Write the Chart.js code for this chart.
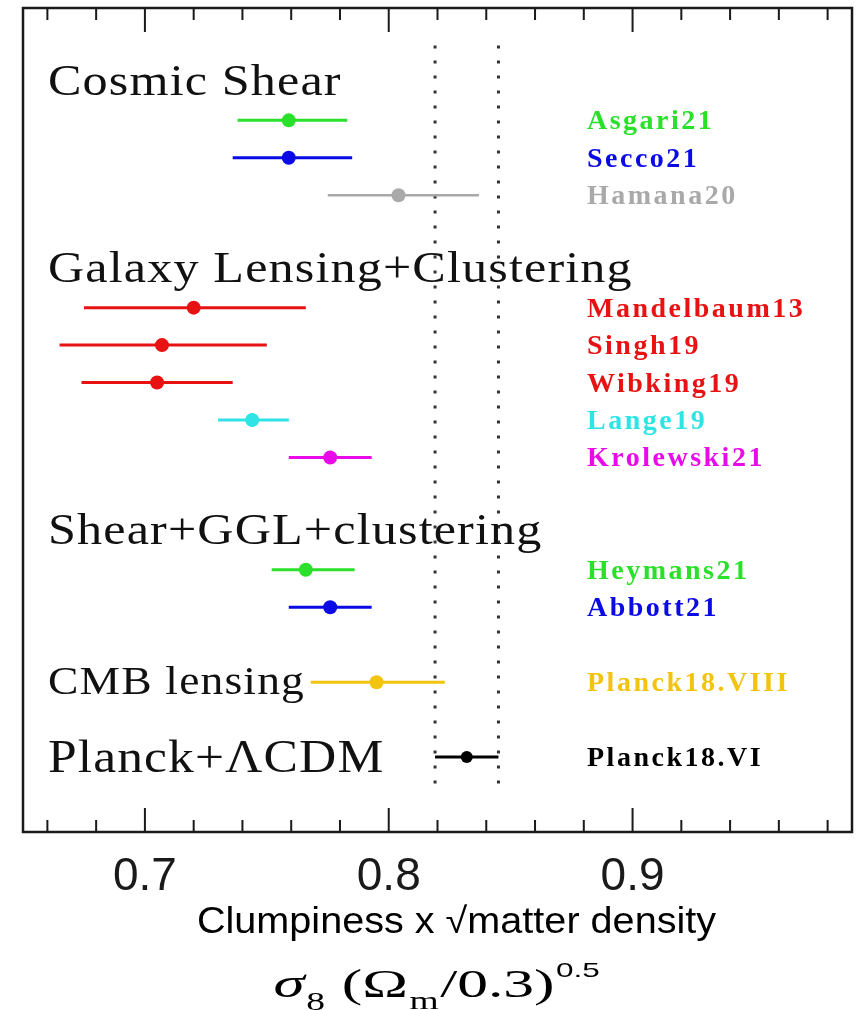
<!DOCTYPE html>
<html>
<head>
<meta charset="utf-8">
<script src="https://cdn.jsdelivr.net/npm/chart.js@4.4.1/dist/chart.umd.min.js"></script>
<style>
  html, body { margin: 0; background: #fff; }
  #wrap { width: 859px; height: 1010px; }
</style>
</head>
<body>
<div id="wrap"><canvas id="s8"></canvas></div>
<script>
// S8 constraints per survey, with 68% bounds
const surveys = ["Asgari21", "Secco21", "Hamana20", "Mandelbaum13", "Singh19", "Wibking19",
  "Lange19", "Krolewski21", "Heymans21", "Abbott21", "Planck18.VIII", "Planck18.VI"]
const rows = [1, 2, 3, 6, 7, 8, 9, 10, 13, 14, 16, 18]
const s8 = [0.759, 0.759, 0.804, 0.720, 0.707, 0.705, 0.744, 0.776, 0.766, 0.776, 0.795, 0.832]
const s8Lo = [0.738, 0.736, 0.775, 0.675, 0.665, 0.674, 0.730, 0.759, 0.752, 0.759, 0.768, 0.819]
const s8Hi = [0.783, 0.785, 0.837, 0.766, 0.750, 0.736, 0.759, 0.793, 0.786, 0.793, 0.823, 0.845]
const colours = ["#2ae02a", "#0a0ae6", "#a9a9a9", "#e81212", "#e81212", "#e81212",
  "#2ee4e4", "#e80ae8", "#2ae02a", "#0a0ae6", "#f2c410", "#000000"]

const groups = ["Cosmic Shear", "Galaxy Lensing+Clustering", "Shear+GGL+clustering", "CMB lensing", "Planck+\u039BCDM"]
const groupRows = [0, 5, 12, 16, 18]
const groupFontSize = [44, 44, 44, 40, 46]

const xLabels = [0.7, 0.8, 0.9]
const minorTicks = [0.66, 0.68, 0.72, 0.74, 0.76, 0.78, 0.82, 0.84, 0.86, 0.88, 0.92, 0.94, 0.96, 0.98]

const planckIdx = surveys.indexOf("Planck18.VI")

const errorBars = surveys.map((name, i) => ({
  data: [{ x: s8Lo[i], y: rows[i] }, { x: s8Hi[i], y: rows[i] }],
  showLine: true,
  borderColor: colours[i],
  borderWidth: i === 2 ? 2.5 : 3,
  pointRadius: 0,
}))

const bandLine = (v) => ({
  data: [{ x: v, y: -1 }, { x: v, y: 19 }],
  showLine: true,
  borderColor: "#333",
  borderWidth: 3,
  borderDash: [3, 12],
  pointRadius: 0,
})

// text squeezed/stretched sideways
function wideText(ctx, text, x, y, sx) {
  ctx.save()
  ctx.translate(x, y)
  ctx.scale(sx, 1)
  ctx.fillText(text, 0, 0)
  ctx.restore()
}

const decorations = {
  id: "decorations",
  afterDraw(chart) {
    const { ctx, chartArea: a, scales: { x, y } } = chart
    ctx.save()

    // box + inward ticks on top and bottom
    ctx.strokeStyle = "#1a1a1a"
    ctx.lineWidth = 2.5
    ctx.strokeRect(a.left, a.top, a.right - a.left, a.bottom - a.top)
    ctx.lineWidth = 2
    const tick = (v, len) => {
      const px = x.getPixelForValue(v)
      ctx.beginPath()
      ctx.moveTo(px, a.bottom)
      ctx.lineTo(px, a.bottom - len)
      ctx.moveTo(px, a.top)
      ctx.lineTo(px, a.top + len)
      ctx.stroke()
    }
    xLabels.forEach((v) => tick(v, 24))
    minorTicks.forEach((v) => tick(v, 12))

    // group headings
    ctx.textAlign = "left"
    ctx.textBaseline = "alphabetic"
    ctx.fillStyle = "#111"
    ctx.letterSpacing = "1px"
    groups.forEach((g, i) => {
      const big = i === groups.length - 1
      ctx.font = groupFontSize[i] + 'px "Liberation Serif"'
      wideText(ctx, g, a.left + 25, y.getPixelForValue(groupRows[i]) + (big ? 15 : 12), big ? 1.12 : 1.14)
    })

    // survey names
    ctx.letterSpacing = "2.5px"
    ctx.font = 'bold 28px "Liberation Serif"'
    surveys.forEach((s, i) => {
      ctx.fillStyle = colours[i]
      ctx.fillText(s, a.left + 564, y.getPixelForValue(rows[i]) + 9)
    })
    ctx.letterSpacing = "0px"

    // axis captions
    const cx = (a.left + a.right) / 2
    ctx.fillStyle = "#000"
    ctx.textAlign = "center"
    ctx.font = '36px "Liberation Sans"'
    wideText(ctx, "Clumpiness x \u221Amatter density", cx + 19, 933, 1.1)

    const base = 997
    const sx = 1.5
    const parts = [
      { t: "\u03C3", f: 'italic 42px "Liberation Serif"', dy: 0 },
      { t: "8", f: '25px "Liberation Serif"', dy: 13 },
      { t: " (\u03A9", f: '41px "Liberation Serif"', dy: 0 },
      { t: "m", f: '25px "Liberation Serif"', dy: 12 },
      { t: "/0.3)", f: '41px "Liberation Serif"', dy: 0 },
      { t: "0.5", f: '21px "Liberation Sans"', dy: -20 },
    ]
    ctx.textAlign = "left"
    let total = 0
    parts.forEach((p) => { ctx.font = p.f; p.w = ctx.measureText(p.t).width; total += p.w + 1 })
    let px = cx - (total * sx) / 2
    parts.forEach((p) => {
      ctx.font = p.f
      wideText(ctx, p.t, px, base + p.dy, sx)
      px += (p.w + 1) * sx
    })
    ctx.restore()
  },
}

new Chart(document.getElementById("s8"), {
  type: "scatter",
  data: {
    datasets: [
      {
        data: s8.map((v, i) => ({ x: v, y: rows[i] })),
        pointRadius: s8.map((v, i) => (i === planckIdx ? 6 : 7)),
        pointBackgroundColor: colours,
        pointBorderColor: colours,
        pointBorderWidth: 0,
      },
      ...errorBars,
      bandLine(s8Lo[planckIdx]),
      bandLine(s8Hi[planckIdx]),
    ],
  },
  options: {
    responsive: true,
    maintainAspectRatio: false,
    animation: false,
    events: [],
    layout: { padding: { left: 23, right: 4, top: 8, bottom: 0 } },
    plugins: { legend: { display: false }, tooltip: { enabled: false } },
    scales: {
      x: {
        type: "linear",
        min: 0.65,
        max: 0.99,
        afterBuildTicks: (s) => { s.ticks = xLabels.map((v) => ({ value: v })) },
        afterFit: (s) => { s.height = 178 },
        grid: { display: false, drawTicks: false },
        border: { display: false },
        ticks: {
          color: "#1a1a1a",
          padding: 18,
          maxRotation: 0,
          font: { family: "Liberation Sans", size: 46 },
          callback: (v) => Number(v).toFixed(1),
        },
      },
      y: { type: "linear", min: -2, max: 20, reverse: true, display: false },
    },
  },
  plugins: [decorations],
})
</script>
</body>
</html>
